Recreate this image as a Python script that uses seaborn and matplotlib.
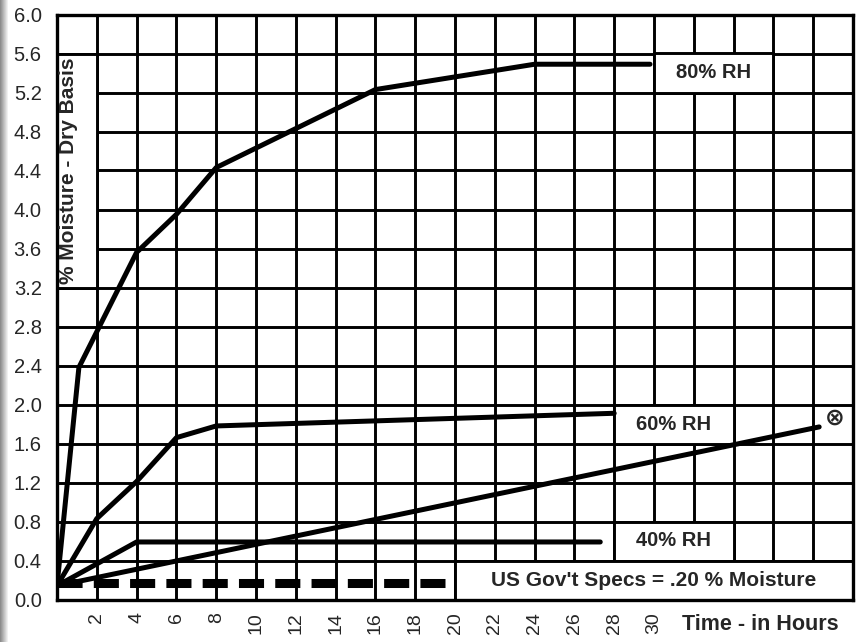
"""
Moisture uptake vs time at different relative humidities
"""

import matplotlib.pyplot as plt
import numpy as np
import seaborn as sns
from matplotlib.patches import Rectangle

# curve data (hours, % moisture dry basis)
rh80_hours = [0, 1.1, 4, 6, 8, 16, 24, 29.8]
rh80_moist = [0.14, 2.38, 3.56, 3.95, 4.43, 5.23, 5.49, 5.49]
rh60_hours = [0, 2, 4, 6, 8, 28]
rh60_moist = [0.14, 0.83, 1.21, 1.66, 1.78, 1.91]
rh40_hours = [0, 4, 27.3]
rh40_moist = [0.14, 0.59, 0.59]
cross_hours = [0, 38.3]
cross_moist = [0.14, 1.77]
spec_hours = [0.0, 19.5]
spec_moist = [0.17, 0.17]

x_ticks = list(range(0, 41, 2))
x_labels = [str(t) if 2 <= t <= 30 else "" for t in x_ticks]
y_ticks = [round(0.4 * i, 1) for i in range(16)]
y_labels = [f"{v:.1f}" for v in y_ticks]

sns.set_style("white")
plt.rcParams["font.family"] = ["Liberation Sans", "DejaVu Sans"]

fig = plt.figure(figsize=(8.66, 6.42), dpi=100)
ax = fig.add_axes([57 / 866, 42.5 / 642, 796 / 866, 585 / 642])

# scanner shadow on the left edge
shade = np.linspace(0.55, 1.0, 9)
strip = np.tile(shade, (642, 1))
fig.figimage(np.dstack([strip, strip, strip]), xo=0, yo=0, zorder=0)

ax.set_xlim(0, 40)
ax.set_ylim(0, 6)
ax.set_xticks(x_ticks)
ax.set_xticklabels(x_labels, rotation=90, fontsize=14)
ax.set_yticks(y_ticks)
ax.set_yticklabels(y_labels, fontsize=14.5)
ax.tick_params(axis="both", length=0)
ax.tick_params(axis="x", pad=9)
ax.tick_params(axis="y", pad=11)
ax.grid(True, color="black", lw=2.1)
ax.set_axisbelow(True)
for sp in ax.spines.values():
    sp.set_color("black")
    sp.set_linewidth(2.4)

# white label boxes knock out the grid
boxes = [(0, 3.2, 2, 2.4), (30, 5.2, 6, 0.4), (28, 1.6, 6, 0.4), (28, 0.4, 6, 0.4), (20, 0, 20, 0.4)]
for bx, by, bw, bh in boxes:
    ax.add_patch(Rectangle((bx, by), bw, bh, facecolor="white", edgecolor="black", lw=2.1, zorder=1))

for hrs, moist in [
    (rh80_hours, rh80_moist),
    (rh60_hours, rh60_moist),
    (rh40_hours, rh40_moist),
    (cross_hours, cross_moist),
]:
    sns.lineplot(x=hrs, y=moist, ax=ax, color="black", lw=3.6, sort=False, estimator=None, zorder=3)

sns.lineplot(
    x=spec_hours, y=spec_moist, ax=ax, color="black", lw=6.5,
    linestyle=(0, (2.78, 1.24)), sort=False, estimator=None, zorder=2.8,
)

bold = dict(fontweight="bold", ha="center", va="center", zorder=4)
ax.text(33, 5.4, "80% RH", fontsize=14.5, **bold)
ax.text(31, 1.8, "60% RH", fontsize=14.5, **bold)
ax.text(31, 0.6, "40% RH", fontsize=14.5, **bold)
ax.text(30, 0.2, "US Gov't Specs = .20 % Moisture", fontsize=15, **bold)
ax.text(0.6, 4.4, "% Moisture - Dry Basis", fontsize=15, rotation=90, **bold)
ax.text(39.1, 1.86, "⊗", fontsize=17, **bold)
ax.text(31.4, -0.26, "Time - in Hours", fontsize=15.5, fontweight="bold",
        ha="left", va="center", clip_on=False)

fig.savefig("out.png", dpi=100)
